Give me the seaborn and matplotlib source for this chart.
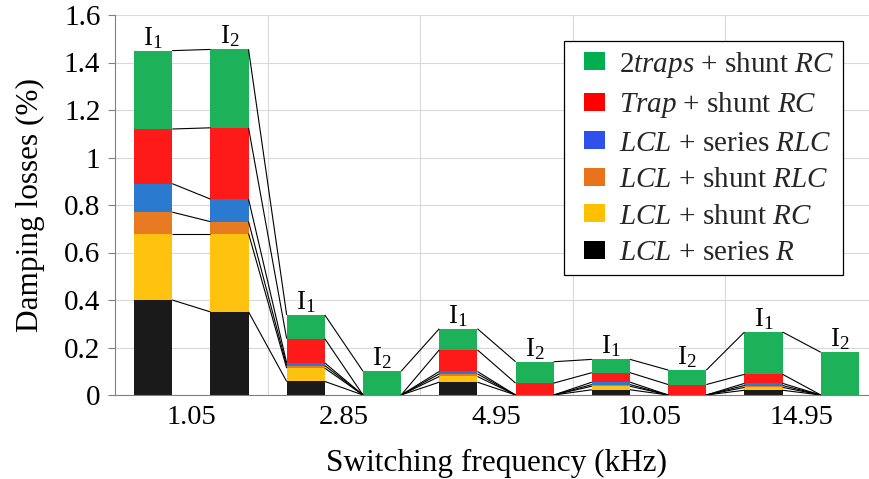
import numpy as np
import pandas as pd
import matplotlib
matplotlib.use("Agg")
import matplotlib.pyplot as plt
import seaborn as sns
from matplotlib.patches import Patch, Rectangle
from matplotlib.legend_handler import HandlerPatch
from matplotlib.ticker import FixedLocator

# Switching frequencies (kHz); each one has two bars, for currents I1 and I2
freq_labels = ["1.05", "2.85", "4.95", "10.05", "14.95"]
current_labels = ["I$_1$", "I$_2$"] * len(freq_labels)

# Damping losses (%) of each damping scheme, one value per bar
series_r = [0.40, 0.35, 0.057, 0.0, 0.054, 0.0, 0.022, 0.0, 0.020, 0.0]
shunt_rc = [0.28, 0.33, 0.056, 0.0, 0.024, 0.0, 0.015, 0.0, 0.012, 0.0]
shunt_rlc = [0.09, 0.05, 0.011, 0.0, 0.011, 0.0, 0.007, 0.0, 0.008, 0.0]
series_rlc = [0.12, 0.095, 0.011, 0.0, 0.010, 0.0, 0.010, 0.0, 0.009, 0.0]
trap_rc = [0.23, 0.30, 0.102, 0.0, 0.091, 0.05, 0.040, 0.044, 0.038, 0.0]
traps_rc = [0.33, 0.33, 0.100, 0.10, 0.089, 0.09, 0.056, 0.061, 0.178, 0.18]

# scheme names, bottom of the stack first
scheme_names = [
    "$LCL$ + series $R$",
    "$LCL$ + shunt $RC$",
    "$LCL$ + shunt $RLC$",
    "$LCL$ + series $RLC$",
    "$Trap$ + shunt $RC$",
    "$2traps$ + shunt $RC$",
]
scheme_values = [series_r, shunt_rc, shunt_rlc, series_rlc, trap_rc, traps_rc]
bar_colors = ["#1a1a1a", "#ffc20e", "#e87a22", "#2a7bd0", "#ff1a1a", "#1db15a"]
legend_colors = ["#000000", "#ffc000", "#e8731a", "#3050ee", "#ff0000", "#00b050"]

sns.set_theme(style="white")
plt.rcParams["font.family"] = ["Liberation Serif", "DejaVu Serif"]
plt.rcParams["mathtext.fontset"] = "custom"
plt.rcParams["mathtext.rm"] = "Liberation Serif"
plt.rcParams["mathtext.it"] = "Liberation Serif:italic"
plt.rcParams["mathtext.bf"] = "Liberation Serif:bold"

n_bars = len(series_r)
positions = np.arange(n_bars)
rows = []
for name, vals in zip(scheme_names, scheme_values):
    for p, v in zip(positions, vals):
        rows.append({"bar": p, "scheme": name, "loss": v})
df = pd.DataFrame(rows)

fig = plt.figure(figsize=(8.69, 4.79), dpi=100)
ax = fig.add_axes([115 / 869, 84 / 479, 763 / 869, 380 / 479])

# stacked bars: seaborn stacks the first hue level on top
sns.histplot(
    data=df, x="bar", weights="loss", hue="scheme",
    hue_order=scheme_names[::-1],
    palette=dict(zip(scheme_names, bar_colors)),
    multiple="stack", discrete=True, shrink=0.5,
    alpha=1, linewidth=0, legend=False, ax=ax, zorder=2,
)

# series lines joining the top of each scheme from one bar to the next
tops = np.cumsum(np.array(scheme_values), axis=0)
half = 0.25
for i in range(n_bars - 1):
    for k in range(tops.shape[0]):
        ax.plot([i + half, i + 1 - half], [tops[k, i], tops[k, i + 1]],
                color="black", lw=0.8, zorder=3, solid_capstyle="butt")

# current labels above each bar
for i, lbl in enumerate(current_labels):
    ax.annotate(lbl, (positions[i], tops[-1, i]), xytext=(0, 0),
                textcoords="offset points", ha="center", va="bottom",
                fontsize=19.5, color="black")

ax.set_xlim(-0.5, n_bars - 0.5)
ax.set_ylim(0, 1.6)

yt = np.round(np.arange(0, 1.61, 0.2), 1)
ax.set_yticks(yt)
ax.set_yticklabels([f"{v:g}" for v in yt], fontsize=21)
centers = np.arange(0.5, n_bars, 2)
ax.set_xticks(centers)
ax.set_xticklabels(freq_labels, fontsize=20.5)
ax.xaxis.set_minor_locator(FixedLocator(np.arange(1.5, n_bars - 1, 2)))

ax.tick_params(axis="x", which="both", length=0, pad=7, colors="black")
ax.tick_params(axis="y", length=5, width=0.8, color="#808080", pad=5.5,
               left=True, labelcolor="black")

ax.grid(False)
ax.yaxis.grid(True, color="#d9d9d9", lw=0.8)
ax.xaxis.grid(True, which="minor", color="#d9d9d9", lw=0.8)
ax.set_axisbelow(True)

for side in ("top", "right"):
    ax.spines[side].set_visible(False)
for side in ("left", "bottom"):
    ax.spines[side].set_color("#808080")
    ax.spines[side].set_linewidth(0.8)

ax.set_xlabel("Switching frequency (kHz)", fontsize=22.5, color="black")
ax.set_ylabel("Damping losses (%)", fontsize=22.5, color="black")
ax.xaxis.set_label_coords(0.5, -0.143)
ax.yaxis.set_label_coords(-0.092, 0.5)

# legend keys: small squares sitting at the right end of the key slot
LEG_FS = 21
SQ_W, SQ_H = 21 / (LEG_FS * 100 / 72), 18 / (LEG_FS * 100 / 72)


def square_key(legend, orig_handle, xdescent, ydescent, width, height, fontsize):
    w = SQ_W * fontsize
    h = SQ_H * fontsize
    return Rectangle((width - w - xdescent, -ydescent + (height - h) / 2), w, h)


handles = [Patch(facecolor=c, edgecolor="none") for c in legend_colors[::-1]]
leg = fig.legend(
    handles, scheme_names[::-1], loc="upper right",
    bbox_to_anchor=(843 / 869, 1 - 41 / 479), bbox_transform=fig.transFigure,
    fontsize=LEG_FS, frameon=True, fancybox=False, framealpha=1,
    edgecolor="black", borderaxespad=0, borderpad=0.3,
    handlelength=1.1, handleheight=SQ_H, handletextpad=0.48,
    labelspacing=0.36,
    handler_map={Patch: HandlerPatch(patch_func=square_key)},
)
leg.get_frame().set_linewidth(0.9)

fig.savefig("out.png", dpi=100)
